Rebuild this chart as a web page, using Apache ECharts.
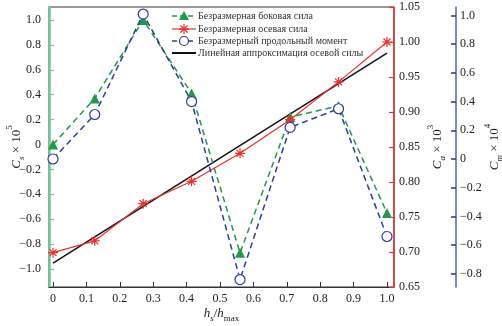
<!DOCTYPE html>
<html>
<head>
<meta charset="utf-8">
<script src="https://cdn.jsdelivr.net/npm/echarts@6/dist/echarts.min.js"></script>
<style>
  html, body { margin: 0; padding: 0; background: #fff; }
  #chart { width: 502px; height: 326px; }
</style>
</head>
<body>
<div id="chart"></div>
<script>
// Relative height of the section h_s / h_max
const xValues = [0, 0.125, 0.27, 0.415, 0.56, 0.71, 0.855, 1.0];
// Dimensionless side force, C_s × 10^5 (left axis)
const sideForce = [0.0, 0.37, 1.0, 0.41, -0.87, 0.22, 0.31, -0.55];
// Dimensionless axial force, C_a × 10^3 (right axis)
const axialForce = [0.699, 0.716, 0.769, 0.801, 0.841, 0.889, 0.943, 1.0];
// Dimensionless pitching moment, C_m × 10^4 (outer right axis)
const pitchMoment = [0.0, 0.31, 1.01, 0.40, -0.84, 0.22, 0.35, -0.54];
// Linear approximation of the axial force (end points)
const fitX = [0, 1.0];
const fitY = [0.684, 0.984];

const xTicks = [0, 0.1, 0.2, 0.3, 0.4, 0.5, 0.6, 0.7, 0.8, 0.9, 1.0];
const csTicks = [-1.0, -0.8, -0.6, -0.4, -0.2, 0, 0.2, 0.4, 0.6, 0.8, 1.0];
const caTicks = [0.65, 0.70, 0.75, 0.80, 0.85, 0.90, 0.95, 1.00, 1.05];
const cmTicks = [-0.8, -0.6, -0.4, -0.2, 0, 0.2, 0.4, 0.6, 0.8, 1.0];

const legendNames = [
  'Безразмерная боковая сила',
  'Безразмерная осевая сила',
  'Безразмерный продольный момент',
  'Линейная аппроксимация осевой силы'
];

const FONT = '"Liberation Serif", "DejaVu Serif", serif';
const TXT = '#222';
const GREEN_AXIS = '#6cc898';
const RED = '#e8302c';
const BLUE_AXIS = '#5560b4';
const GREEN = '#1f9a48';
const BLUE = '#2c3aa6';
const BLACK = '#111';

const pair = (xs, ys) => xs.map((x, i) => [x, ys[i]]);
const fmt1 = v => {
  if (Math.abs(v) < 1e-9) return '0';
  return (v < 0 ? '\u2212' : '') + Math.abs(v).toFixed(1);
};
const fmt2 = v => v.toFixed(2);

const nameRich = {
  i: { fontFamily: FONT, fontStyle: 'italic', fontSize: 13, color: TXT, lineHeight: 18, verticalAlign: 'bottom' },
  n: { fontFamily: FONT, fontSize: 13, color: TXT, lineHeight: 18, verticalAlign: 'bottom' },
  sub: { fontFamily: FONT, fontStyle: 'italic', fontSize: 9, color: TXT, lineHeight: 18, verticalAlign: 'bottom', padding: [0, 0, -3, 0] },
  subn: { fontFamily: FONT, fontSize: 9, color: TXT, lineHeight: 18, verticalAlign: 'bottom', padding: [0, 0, -3, 0] },
  sup: { fontFamily: FONT, fontSize: 9, color: TXT, lineHeight: 18, verticalAlign: 'top' }
};

const asterisk = 'path://M0,5L10,5M5,0L5,10M1.5,1.5L8.5,8.5M8.5,1.5L1.5,8.5';

// Legend drawn as a small block of graphic elements (line sample + marker + caption)
function legendRow(i, y, lineColor, dash, marker) {
  const x0 = 172, x1 = 196, xm = 184;
  const items = [{
    type: 'line', shape: { x1: x0, y1: y, x2: x1, y2: y },
    style: { stroke: lineColor, lineWidth: dash ? 1.5 : (i === 3 ? 2 : 1.2), lineDash: dash || null }
  }];
  if (marker === 'triangle') {
    items.push({ type: 'polygon', shape: { points: [[xm, y - 5], [xm - 5, y + 4], [xm + 5, y + 4]] }, style: { fill: GREEN } });
  } else if (marker === 'circle') {
    items.push({ type: 'circle', shape: { cx: xm, cy: y, r: 4.5 }, style: { fill: '#fff', stroke: BLUE, lineWidth: 1.2 } });
  } else if (marker === 'asterisk') {
    const r = 5, d = 3.5;
    [[xm - r, y, xm + r, y], [xm, y - r, xm, y + r], [xm - d, y - d, xm + d, y + d], [xm + d, y - d, xm - d, y + d]]
      .forEach(s => items.push({ type: 'line', shape: { x1: s[0], y1: s[1], x2: s[2], y2: s[3] }, style: { stroke: RED, lineWidth: 1.2 } }));
  }
  items.push({
    type: 'text', x: 198, y: y,
    style: { text: legendNames[i], fontFamily: FONT, fontSize: 10, fill: '#333', verticalAlign: 'middle', align: 'left' }
  });
  return items;
}

const legendGraphics = [].concat(
  legendRow(0, 16, GREEN, [5, 3], 'triangle'),
  legendRow(1, 29, RED, null, 'asterisk'),
  legendRow(2, 41, BLUE, [5, 3], 'circle'),
  legendRow(3, 53, BLACK, null, null)
).map(g => Object.assign(g, { z: 100 }));

const chart = echarts.init(document.getElementById('chart'), null, { renderer: 'canvas' });

chart.setOption({
  animation: false,
  backgroundColor: '#fff',
  textStyle: { fontFamily: FONT, color: TXT },
  grid: {
    left: 49, right: 108, top: 7, bottom: 39,
    containLabel: false, outerBoundsMode: 'none',
    show: true, borderColor: '#333', borderWidth: 1, backgroundColor: 'transparent'
  },
  graphic: legendGraphics,
  xAxis: {
    type: 'value',
    min: -0.012, max: 1.021,
    name: '{i|h}{sub|s}{n|/}{i|h}{subn|max}',
    nameLocation: 'middle', nameGap: 15, nameMoveOverlap: false,
    nameTextStyle: { rich: nameRich },
    axisLine: { onZero: false, lineStyle: { color: '#333', width: 1 } },
    axisTick: { inside: true, length: 5, customValues: xTicks, lineStyle: { color: '#333' } },
    axisLabel: { customValues: xTicks, formatter: fmt1, fontFamily: FONT, fontSize: 12, color: TXT, margin: 6 },
    splitLine: { show: false }
  },
  yAxis: [
    {
      type: 'value', position: 'left',
      min: -1.144, max: 1.104,
      name: '{i|C}{sub|s}{n| × 10}{sup|5}',
      nameLocation: 'middle', nameGap: 26, nameMoveOverlap: false,
      nameTextStyle: { rich: nameRich },
      axisLine: { show: true, onZero: false, lineStyle: { color: GREEN_AXIS, width: 2.5 } },
      axisTick: { show: true, inside: true, length: 5, customValues: csTicks, lineStyle: { color: GREEN_AXIS, width: 1.2 } },
      axisLabel: { customValues: csTicks, formatter: fmt1, fontFamily: FONT, fontSize: 12, color: TXT, margin: 8 },
      splitLine: { show: false }
    },
    {
      type: 'value', position: 'right',
      min: 0.65, max: 1.05,
      name: '{i|C}{sub|a}{n| × 10}{sup|3}',
      nameLocation: 'middle', nameGap: 32, nameMoveOverlap: false,
      nameTextStyle: { rich: nameRich },
      axisLine: { show: true, onZero: false, lineStyle: { color: RED, width: 1.5 } },
      axisTick: { show: true, inside: true, length: 5, customValues: caTicks, lineStyle: { color: RED, width: 1.2 } },
      axisLabel: { customValues: caTicks, formatter: fmt2, fontFamily: FONT, fontSize: 12, color: TXT, margin: 5 },
      splitLine: { show: false }
    },
    {
      type: 'value', position: 'right', offset: 62,
      min: -0.892, max: 1.059,
      name: '{i|C}{sub|m}{n| × 10}{sup|4}',
      nameLocation: 'middle', nameGap: 27, nameMoveOverlap: false,
      nameTextStyle: { rich: nameRich },
      axisLine: { show: true, onZero: false, lineStyle: { color: BLUE_AXIS, width: 1.5 } },
      axisTick: { show: true, inside: true, length: 5, customValues: cmTicks, lineStyle: { color: '#2a3590', width: 1.5 } },
      axisLabel: { customValues: cmTicks, formatter: fmt1, fontFamily: FONT, fontSize: 12, color: TXT, margin: 4 },
      splitLine: { show: false }
    }
  ],
  series: [
    {
      name: legendNames[0], type: 'line', yAxisIndex: 0,
      data: pair(xValues, sideForce),
      symbol: 'triangle', symbolSize: 10,
      lineStyle: { color: GREEN, width: 1.5, type: [6, 4] },
      itemStyle: { color: GREEN, borderColor: GREEN, borderWidth: 0 },
      z: 3
    },
    {
      name: legendNames[1], type: 'line', yAxisIndex: 1,
      data: pair(xValues, axialForce),
      symbol: asterisk, symbolSize: 10,
      lineStyle: { color: RED, width: 1.2 },
      itemStyle: { color: 'transparent', borderColor: RED, borderWidth: 1.2 },
      z: 4
    },
    {
      name: legendNames[2], type: 'line', yAxisIndex: 2,
      data: pair(xValues, pitchMoment),
      symbol: 'circle', symbolSize: 10, showAllSymbol: true,
      lineStyle: { color: BLUE, width: 1.5, type: [6, 4] },
      itemStyle: { color: '#fff', borderColor: BLUE, borderWidth: 1.2 },
      z: 5
    },
    {
      name: legendNames[3], type: 'line', yAxisIndex: 1,
      data: pair(fitX, fitY),
      symbol: 'none',
      lineStyle: { color: BLACK, width: 1.5 },
      z: 2
    }
  ]
});
</script>
</body>
</html>
